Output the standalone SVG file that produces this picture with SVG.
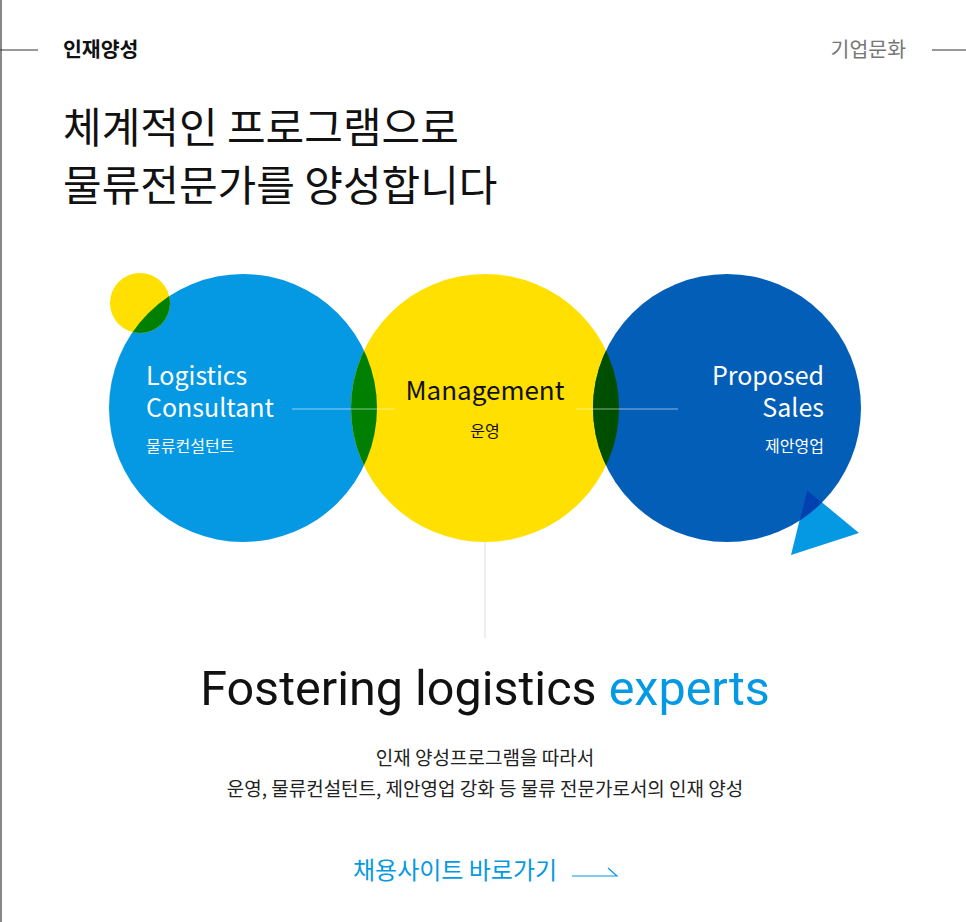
<svg xmlns="http://www.w3.org/2000/svg" width="966" height="922" viewBox="0 0 966 922">
<style>
.k{font-family:"Noto Sans CJK KR","Noto Sans",sans-serif}
.w{fill:#fff}
</style>
<defs>
<clipPath id="cB"><circle cx="243" cy="408" r="134"/></clipPath>
<clipPath id="cD"><circle cx="727" cy="408" r="134"/></clipPath>
</defs>
<rect width="966" height="922" fill="#fff"/>
<line x1="1" y1="0" x2="1" y2="922" stroke="#888" stroke-width="2"/>
<g id="header">
<line x1="0" y1="50" x2="38" y2="50" stroke="#333"/>
<text x="63" y="57" class="k" font-size="20.5" font-weight="bold" fill="#111">인재양성</text>
<text x="906" y="57" class="k" font-size="20.5" fill="#777" text-anchor="end">기업문화</text>
<line x1="932" y1="50" x2="966" y2="50" stroke="#333"/>
</g>
<g id="title" class="k" font-size="42" fill="#111">
<text x="63" y="143">체계적인 프로그램으로</text>
<text x="63" y="201">물류전문가를 양성합니다</text>
</g>
<g id="connectors">
<line x1="485" y1="542" x2="485" y2="638" stroke="#ddd"/>
</g>
<g id="consultant">
<circle cx="243" cy="408" r="134" fill="#0599e4"/>
<circle cx="140" cy="303" r="30" fill="#ffe000"/>
<circle cx="140" cy="303" r="30" fill="#007f00" clip-path="url(#cB)"/>
</g>
<g id="management">
<circle cx="485" cy="408" r="134" fill="#ffe000"/>
<circle cx="485" cy="408" r="134" fill="#007f00" clip-path="url(#cB)"/>
</g>
<g id="sales">
<circle cx="727" cy="408" r="134" fill="#035eb7"/>
<circle cx="485" cy="408" r="134" fill="#004f00" clip-path="url(#cD)"/>
<polygon points="807,490 859,533 791,555" fill="#0599e4"/>
<polygon points="807,490 859,533 791,555" fill="#0040b0" clip-path="url(#cD)"/>
</g>
<g id="lines">
<line x1="292" y1="409" x2="395" y2="409" stroke="#fff" stroke-opacity="0.55"/>
<line x1="576" y1="409" x2="678" y2="409" stroke="#fff" stroke-opacity="0.55"/>
</g>
<g id="labels" class="k">
<text x="146" y="385" font-size="25" class="w">Logistics</text>
<text x="146" y="417" font-size="25" class="w">Consultant</text>
<text x="146" y="452" font-size="16" class="w">물류컨설턴트</text>
<text x="485" y="400" font-size="26" fill="#111" text-anchor="middle">Management</text>
<text x="485" y="437" font-size="16" fill="#111" text-anchor="middle">운영</text>
<text x="824" y="385" font-size="25" class="w" text-anchor="end">Proposed</text>
<text x="824" y="417" font-size="25" class="w" text-anchor="end">Sales</text>
<text x="824" y="452" font-size="16" class="w" text-anchor="end">제안영업</text>
</g>
<g id="bottom">
<text x="485" y="705" font-family="Roboto,sans-serif" font-size="48.5" fill="#111" text-anchor="middle">Fostering logistics <tspan fill="#0599e4">experts</tspan></text>
<text x="485" y="765" class="k" font-size="19" fill="#222" text-anchor="middle">인재 양성프로그램을 따라서</text>
<text x="485" y="796" class="k" font-size="19" fill="#222" text-anchor="middle">운영, 물류컨설턴트, 제안영업 강화 등 물류 전문가로서의 인재 양성</text>
<text x="353" y="879" class="k" font-size="24" fill="#0599e4">채용사이트 바로가기</text>
<polyline points="572,876 617,876 608,868" fill="none" stroke="#0599e4" stroke-width="1.2"/>
</g>
</svg>
